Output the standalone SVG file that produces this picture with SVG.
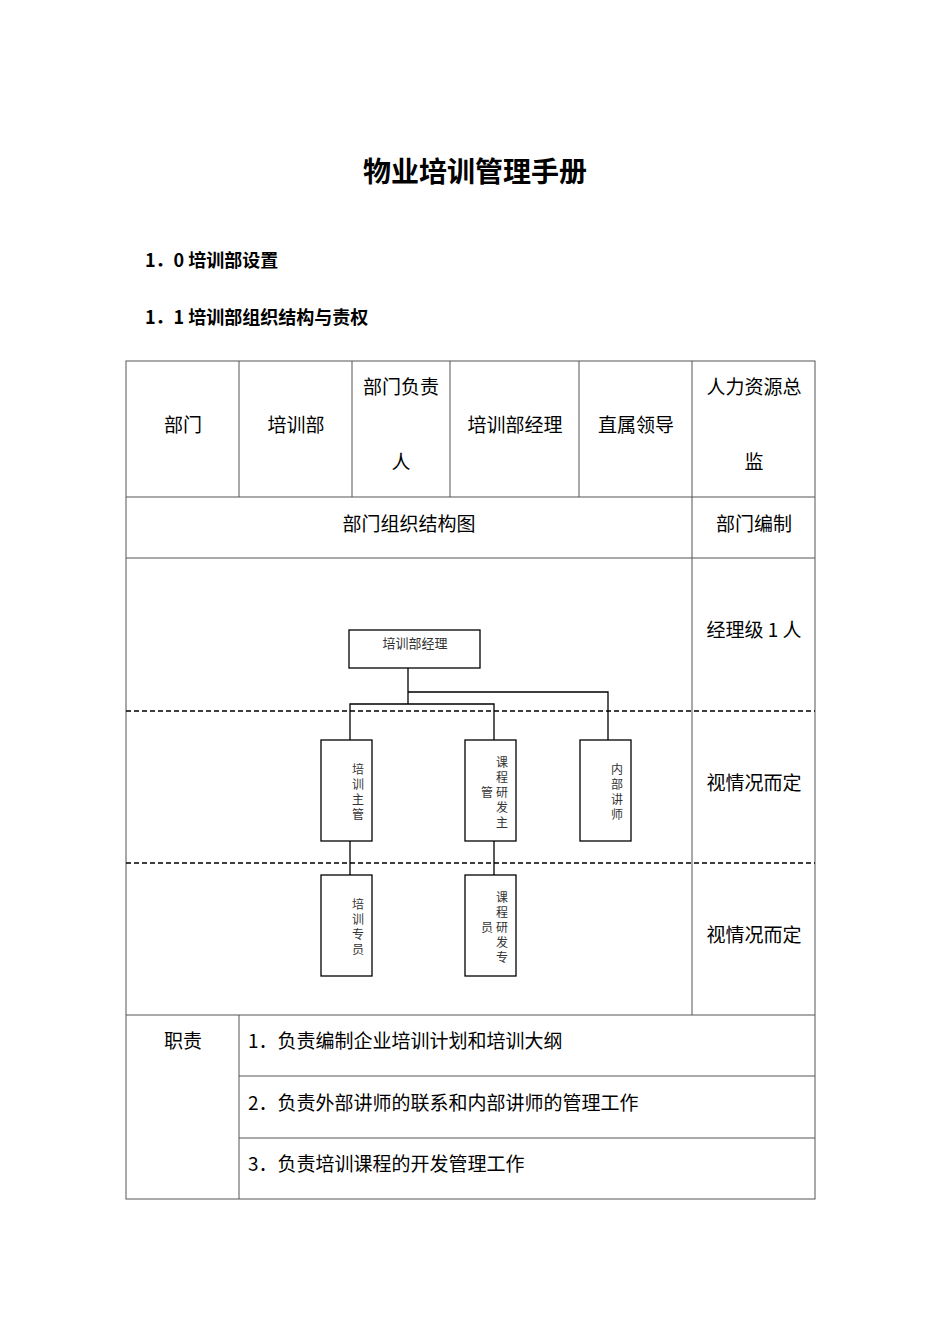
<svg xmlns="http://www.w3.org/2000/svg" width="950" height="1344" viewBox="0 0 950 1344">
<style>
.t{font-family:"Noto Sans CJK SC","Noto Sans",sans-serif;font-size:19px;fill:#000}
.s{font-family:"Noto Sans CJK SC",sans-serif;font-size:12px;fill:#333;text-anchor:middle}
.c{text-anchor:middle}
.b{fill:#fff;stroke:#000;stroke-width:1.3}
.g{stroke:#555;stroke-width:1;fill:none}
.l{stroke:#000;stroke-width:1.3;fill:none}
.d{stroke:#000;stroke-width:1.3;stroke-dasharray:5,3}
</style>
<rect width="950" height="1344" fill="#fff"/>
<text x="475" y="182" class="t c" style="font-size:28px;font-weight:bold">物业培训管理手册</text>
<text x="145" y="267" class="t" style="font-weight:bold;font-size:18px">1．0 培训部设置</text>
<text x="145" y="324" class="t" style="font-weight:bold;font-size:18px;font-family:'Noto Sans CJK SC',serif">1．1 培训部组织结构与责权</text>
<g id="table">
<rect x="126" y="361" width="689" height="838" class="g"/>
<path class="g" d="M126 497H815M126 558H815M126 1015H815M239 1076H815M239 1138H815M239 361V497M352 361V497M450 361V497M579 361V497M692 361V1015M239 1015V1199"/>
<text x="183" y="432" class="t c">部门</text>
<text x="296" y="432" class="t c">培训部</text>
<text x="401" y="394" class="t c">部门负责</text>
<text x="401" y="469" class="t c">人</text>
<text x="515" y="432" class="t c">培训部经理</text>
<text x="636" y="432" class="t c">直属领导</text>
<text x="754" y="394" class="t c">人力资源总</text>
<text x="754" y="469" class="t c">监</text>
<text x="409" y="531" class="t c">部门组织结构图</text>
<text x="754" y="531" class="t c">部门编制</text>
<text x="754" y="637" class="t c">经理级 1 人</text>
<text x="754" y="790" class="t c">视情况而定</text>
<text x="754" y="942" class="t c">视情况而定</text>
<text x="183" y="1048" class="t c">职责</text>
<text x="248" y="1048" class="t">1．负责编制企业培训计划和培训大纲</text>
<text x="248" y="1110" class="t">2．负责外部讲师的联系和内部讲师的管理工作</text>
<text x="248" y="1171" class="t">3．负责培训课程的开发管理工作</text>
</g>
<g id="dashes">
<line x1="126" y1="711" x2="815" y2="711" class="d"/>
<line x1="126" y1="863" x2="815" y2="863" class="d"/>
</g>
<g id="connectors">
<path class="l" d="M408 668V704M408 692H608V740M350 740V704H494V740M350 841V875M494 841V875"/>
</g>
<g id="n_mgr"><rect x="349" y="630" width="131" height="38" class="b"/><text x="415" y="648" class="s" style="font-size:13px">培训部经理</text></g>
<g id="n_zg"><rect x="321" y="740" width="51" height="101" class="b"/>
<text class="s"><tspan x="358" y="774">培</tspan><tspan x="358" y="789">训</tspan><tspan x="358" y="804">主</tspan><tspan x="358" y="819">管</tspan></text></g>
<g id="n_kc"><rect x="465" y="740" width="51" height="101" class="b"/>
<text class="s"><tspan x="502" y="767">课</tspan><tspan x="502" y="782">程</tspan><tspan x="502" y="797">研</tspan><tspan x="502" y="812">发</tspan><tspan x="502" y="827">主</tspan><tspan x="487" y="797">管</tspan></text></g>
<g id="n_js"><rect x="580" y="740" width="51" height="101" class="b"/>
<text class="s"><tspan x="617" y="774">内</tspan><tspan x="617" y="789">部</tspan><tspan x="617" y="804">讲</tspan><tspan x="617" y="819">师</tspan></text></g>
<g id="n_zy"><rect x="321" y="875" width="51" height="101" class="b"/>
<text class="s"><tspan x="358" y="909">培</tspan><tspan x="358" y="924">训</tspan><tspan x="358" y="939">专</tspan><tspan x="358" y="954">员</tspan></text></g>
<g id="n_kz"><rect x="465" y="875" width="51" height="101" class="b"/>
<text class="s"><tspan x="502" y="902">课</tspan><tspan x="502" y="917">程</tspan><tspan x="502" y="932">研</tspan><tspan x="502" y="947">发</tspan><tspan x="502" y="962">专</tspan><tspan x="487" y="932">员</tspan></text></g>
</svg>
